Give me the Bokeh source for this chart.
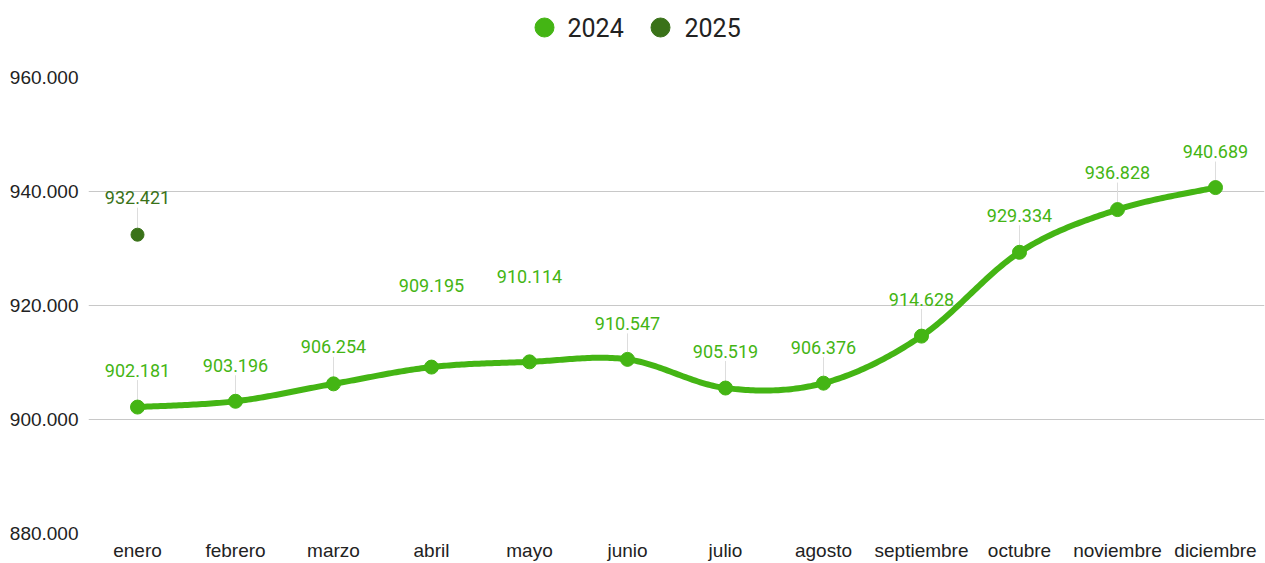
import numpy as np
from bokeh.plotting import figure
from bokeh.layouts import column
from bokeh.models import FixedTicker, ColumnDataSource, Range1d
from bokeh.embed import file_html
from bokeh.resources import INLINE
from bokeh.core.properties import value

# ---- data ----
months = ["enero", "febrero", "marzo", "abril", "mayo", "junio", "julio",
          "agosto", "septiembre", "octubre", "noviembre", "diciembre"]
values_2024 = [902181, 903196, 906254, 909195, 910114, 910547, 905519,
               906376, 914628, 929334, 936828, 940689]
months_2025 = ["enero"]
values_2025 = [932421]
y_ticks = [880000, 900000, 920000, 940000, 960000]
series_names = ["2024", "2025"]

# ---- styles ----
C2024 = "#44b514"
C2025 = "#3a7219"
label_px_2024 = [37, 36, 37, 82, 85, 36, 37, 36, 37, 37, 37, 36]
label_px_2025 = [37]

def fmt(v):
    return f"{v:,}".replace(",", ".")

Y0, Y1 = 880000, 960000
FRAME_H = 456
upp = (Y1 - Y0) / FRAME_H
W = 1265
LEG_H = 54
BL, BR = 88, 1

# ---- legend strip (x in page pixels) ----
leg = figure(width=W, height=LEG_H, x_range=Range1d(BL, W - BR), y_range=Range1d(0, LEG_H),
             output_backend="svg", toolbar_location=None,
             min_border_left=BL, min_border_right=BR, min_border_top=0, min_border_bottom=0)
leg.axis.visible = False
leg.grid.visible = False
leg.outline_line_color = None
leg_src = ColumnDataSource(dict(x=[544, 660], y=[27, 27], c=[C2024, C2025],
                                tx=[567, 684], t=series_names))
leg.scatter("x", "y", source=leg_src, size=19, fill_color="c", line_color="c")
leg.text("tx", "y", text="t", source=leg_src, text_align="left", text_baseline="middle",
         text_font=value("Roboto"), text_font_size="25px", text_color="#222222")

# ---- main chart ----
p = figure(width=W, height=563 - LEG_H, x_range=Range1d(-0.5, 11.5), y_range=Range1d(Y0, Y1),
           output_backend="svg", toolbar_location=None,
           min_border_left=BL, min_border_right=BR, min_border_top=77 - LEG_H, min_border_bottom=30)
p.outline_line_color = None

p.xgrid.visible = False
p.ygrid.ticker = FixedTicker(ticks=y_ticks)
p.ygrid.grid_line_color = "#c8c8c8"
p.ygrid.grid_line_width = 1

xi = list(range(len(months)))
p.xaxis.ticker = FixedTicker(ticks=xi)
p.xaxis.major_label_overrides = {i: m for i, m in enumerate(months)}
p.yaxis.ticker = FixedTicker(ticks=y_ticks)
p.yaxis.major_label_overrides = {t: fmt(t) for t in y_ticks}
for ax in (p.xaxis, p.yaxis):
    ax.axis_line_color = None
    ax.major_tick_line_color = None
    ax.minor_tick_line_color = None
    ax.major_tick_out = 0
    ax.minor_tick_out = 0
    ax.major_label_text_font = "Liberation Sans"
    ax.major_label_text_font_size = "19px"
    ax.major_label_text_color = "#222222"
p.xaxis.major_label_standoff = 6
p.yaxis.major_label_standoff = 10

# ---- smooth curve (Catmull-Rom through the data points) ----
pts_x = np.array(xi, float)
pts_y = np.array(values_2024, float)
n = len(pts_x)
cx, cy = [], []
t = np.linspace(0, 1, 40)
for i in range(n - 1):
    i0, i3 = max(i - 1, 0), min(i + 2, n - 1)
    P0 = np.array([pts_x[i0], pts_y[i0]]); P1 = np.array([pts_x[i], pts_y[i]])
    P2 = np.array([pts_x[i + 1], pts_y[i + 1]]); P3 = np.array([pts_x[i3], pts_y[i3]])
    for tt in t:
        pt = 0.5 * ((2 * P1) + (-P0 + P2) * tt + (2 * P0 - 5 * P1 + 4 * P2 - P3) * tt ** 2
                    + (-P0 + 3 * P1 - 3 * P2 + P3) * tt ** 3)
        cx.append(pt[0]); cy.append(pt[1])
p.line(cx, cy, line_color=C2024, line_width=6, line_join="round", line_cap="round")

# ---- leader lines ----
def leaders(xs, vs, offs):
    x0s, y0s, y1s = [], [], []
    for x, v, o in zip(xs, vs, offs):
        if o < 50:
            x0s.append(x); y0s.append(v + 6 * upp); y1s.append(v + (o - 10) * upp)
    return x0s, y0s, y1s

lx, ly0, ly1 = leaders(xi, values_2024, label_px_2024)
p.segment(lx, ly0, lx, ly1, line_color="#dddddd", line_width=1)
x25 = [months.index(m) for m in months_2025]
lx, ly0, ly1 = leaders(x25, values_2025, label_px_2025)
p.segment(lx, ly0, lx, ly1, line_color="#dddddd", line_width=1)

# ---- markers ----
src24 = ColumnDataSource(dict(x=xi, y=values_2024, t=[fmt(v) for v in values_2024],
                              yo=[-o for o in label_px_2024]))
src25 = ColumnDataSource(dict(x=x25, y=values_2025, t=[fmt(v) for v in values_2025],
                              yo=[-o for o in label_px_2025]))
p.scatter("x", "y", source=src24, size=14, fill_color=C2024, line_color=C2024)
p.scatter("x", "y", source=src25, size=13, fill_color=C2025, line_color=C2025)

for src, c in ((src24, C2024), (src25, C2025)):
    p.text("x", "y", text="t", source=src, y_offset="yo", text_align="center",
           text_baseline="middle", text_font=value("Roboto"), text_font_size="18px",
           text_color=c)

layout = column(leg, p, spacing=0)
open("out.html", "w").write(file_html(layout, INLINE))
